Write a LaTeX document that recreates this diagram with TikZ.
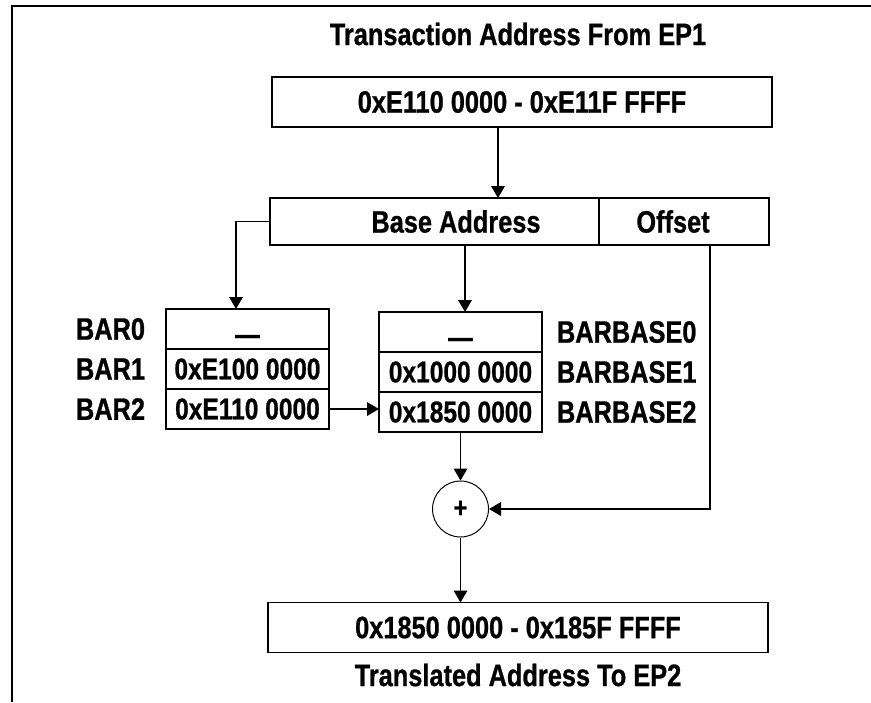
\documentclass[tikz,border=0pt]{standalone}
\usepackage{fontspec}
\setmainfont{Liberation Sans}[FakeStretch=0.82, BoldFeatures={FakeBold=0.8}]
\usetikzlibrary{arrows.meta,positioning}

\def\atBoxWidth{12.5cm}
\def\atBoxHeight{1.25cm}
\def\atTblWidth{4.075cm}
\def\atRowHeight{1.0cm}

\tikzset{
  atfont/.style = {font = \fontsize{22}{26}\selectfont\bfseries},
  atbox/.style = {atfont, draw, line width = 1.4pt, inner sep = 0pt, outer sep = 0pt,
    minimum width = \atBoxWidth, minimum height = \atBoxHeight},
  atsplit/.style = {draw, line width = 1.4pt, inner sep = 0pt, outer sep = 0pt,
    minimum height = 1.175cm},
  atrow/.style = {draw, line width = 1.4pt, inner sep = 0pt, outer sep = 0pt,
    minimum width = \atTblWidth, minimum height = \atRowHeight,
    font = \fontsize{21.3}{25}\selectfont\bfseries},
  atsum/.style = {draw, circle, line width = 0.7pt, inner sep = 0pt,
    minimum size = 1.4cm, font = \fontsize{20}{22}\selectfont\bfseries},
  atflow/.style = {line width = 1.1pt, -{Triangle[length = 0.3cm, width = 0.34cm]}},
}
%% empty register slot
\newcommand\atEmpty{\raisebox{-0.52em}[0pt][0pt]{\textemdash}}

\begin{document}
\begin{tikzpicture}
            \useasboundingbox (0,0) rectangle (21.775,-17.55);
            %% frame
            \draw [line width = 1.4pt] (21.775,-0.15) -- (0.3,-0.15) -- (0.3,-17.55);
            %% taps for the connectors
            \coordinate (srctap) at (12.45,0);
            \coordinate (bartap) at (5.9,0);
            \coordinate (basetap) at (11.625,0);
            \coordinate (offtap) at (17.75,0);

            %% transaction address
            \node [atfont] (srctitle) at (12.95,-0.85) {Transaction Address From EP1};
            \node [atbox] (srcaddr) at (13.05,-2.55) {0xE110 0000 - 0xE11F FFFF};

            %% base address / offset
            \node [atsplit, minimum width = 8.225cm] (basecell) at (10.8625,-5.5375) {};
            \node [atsplit, minimum width = 4.25cm, anchor = west] (offsetcell) at (basecell.east) {};
            \node [atfont] (baselbl) at (11.4,-5.5375) {Base Address};
            \node [atfont] (offsetlbl) at (16.825,-5.5375) {Offset};

            %% bar table
            \node [atrow, anchor = north] (bar0) at (6.1875,-7.725) {\atEmpty};
            \node [atrow, below = 0pt of bar0] (bar1) {0xE100 0000};
            \node [atrow, below = 0pt of bar1] (bar2) {0xE110 0000};
            \node [atfont, left = 0.4cm of bar0] (bar0lbl) {BAR0};
            \node [atfont, left = 0.4cm of bar1] (bar1lbl) {BAR1};
            \node [atfont, left = 0.4cm of bar2] (bar2lbl) {BAR2};

            %% barbase table
            \node [atrow, anchor = north] (barbase0) at (11.5125,-7.8) {\atEmpty};
            \node [atrow, below = 0pt of barbase0] (barbase1) {0x1000 0000};
            \node [atrow, below = 0pt of barbase1] (barbase2) {0x1850 0000};
            \node [atfont, right = 0.25cm of barbase0] (barbase0lbl) {BARBASE0};
            \node [atfont, right = 0.25cm of barbase1] (barbase1lbl) {BARBASE1};
            \node [atfont, right = 0.25cm of barbase2] (barbase2lbl) {BARBASE2};

            %% adder and translated address
            \node [atsum] (sum) at (11.5125,-12.725) {+};
            \node [atbox] (dstaddr) at (12.95,-15.6875) {0x1850 0000 - 0x185F FFFF};
            \node [atfont] (dsttitle) at (12.95,-16.875) {Translated Address To EP2};

            %% connectors
            \draw [atflow] (srcaddr.south -| srctap) -- (basecell.north -| srctap);
            \draw [atflow] (basecell.west) -| (bar0.north -| bartap);
            \draw [atflow] (basecell.south -| basetap) -- (barbase0.north -| basetap);
            \draw [atflow] (bar2.east) -- (bar2.east -| barbase2.west);
            \draw [atflow] (barbase2.south) -- (sum.north);
            \draw [atflow] (offsetcell.south -| offtap) |- (sum.east);
            \draw [atflow] (sum.south) -- (sum.south |- dstaddr.north);
\end{tikzpicture}
\end{document}
